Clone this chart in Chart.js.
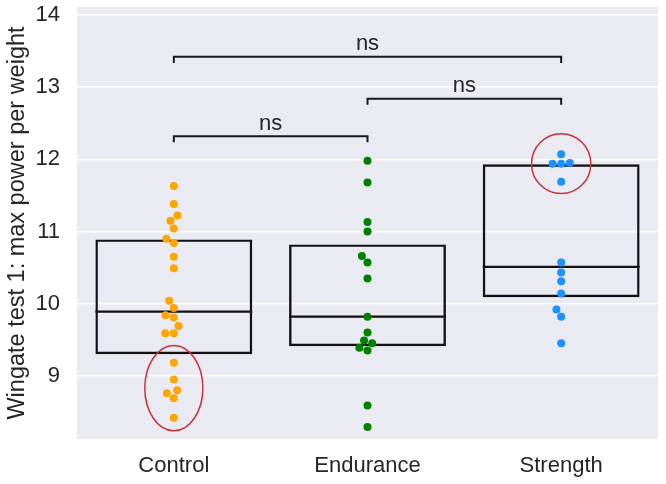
<!DOCTYPE html>
<html>
<head>
<meta charset="utf-8">
<script src="https://cdn.jsdelivr.net/npm/chart.js@4.4.1/dist/chart.umd.min.js"></script>
<style>
  html, body { margin: 0; padding: 0; background: #ffffff; }
</style>
</head>
<body>
<canvas id="wingateChart" width="666" height="484"></canvas>
<script>
// Datos
const grupos = ["Control", "Endurance", "Strength"];
const valoresControl = [11.63, 11.38, 11.22, 11.15, 11.04, 10.90, 10.84, 10.65, 10.49, 10.04, 9.94,
    9.84, 9.81, 9.69, 9.59, 9.59, 9.18, 8.95, 8.80, 8.76, 8.69, 8.42];
const valoresEndurance = [11.98, 11.68, 11.13, 11.00, 10.66, 10.57, 10.35, 9.82, 9.60, 9.49, 9.45,
    9.39, 9.35, 8.59, 8.29];
const valoresStrength = [12.07, 11.94, 11.94, 11.95, 11.69, 10.57, 10.43, 10.31, 10.14, 9.92, 9.82, 9.45];
const cuartil1 = [9.30, 9.41, 10.09];
const medianas = [9.89, 9.82, 10.51];
const cuartil3 = [10.89, 10.82, 11.93];
const ticksY = [9, 10, 11, 12, 13, 14];

// Comparaciones (pares de grupos), altura del corchete y texto
const comparaciones = [[0, 1], [1, 2], [0, 2]];
const alturasComparacion = [12.32, 12.84, 13.42];
const etiquetasComparacion = ["ns", "ns", "ns"];

// Elipses rojas: grupo, valor central, semiejes (x en unidades de grupo, y en valor)
const elipsesGrupo = [0, 2];
const elipsesCentro = [8.83, 11.94];
const elipsesRadioX = [0.15, 0.153];
const elipsesRadioY = [0.59, 0.415];

const coloresGrupo = ["#ffa500", "#008000", "#1e90ff"];
const colorTexto = "#262626";
const colorLineas = "#111111";
const fuente = "'Liberation Sans', Arial, sans-serif";
const anchoCaja = 0.81;
const caidaCorchete = 0.085;
const diametroPunto = 8.6;

Chart.defaults.font.family = fuente;
Chart.defaults.color = colorTexto;

let datasets = [];
[valoresControl, valoresEndurance, valoresStrength].forEach((valores, g) => {
    datasets.push({
        type: "scatter",
        label: grupos[g],
        data: valores.map(v => ({ x: g, y: v })),
        backgroundColor: coloresGrupo[g],
        borderWidth: 0,
        pointRadius: 4,
        order: 0
    });
});

// Cajas (rango intercuartil) como barras flotantes
datasets.push({
    type: "bar",
    label: "cajas",
    data: grupos.map((g, i) => ({ x: i, y: [cuartil1[i], cuartil3[i]] })),
    backgroundColor: "rgba(0,0,0,0)",
    borderColor: colorLineas,
    borderWidth: 2.4,
    borderSkipped: false,
    barPercentage: 1,
    categoryPercentage: anchoCaja,
    order: 3
});

// Medianas
grupos.forEach((g, i) => {
    datasets.push({
        type: "scatter",
        label: "mediana " + g,
        data: [{ x: i - anchoCaja / 2, y: medianas[i] }, { x: i + anchoCaja / 2, y: medianas[i] }],
        showLine: true,
        borderColor: colorLineas,
        borderWidth: 2.4,
        pointRadius: 0,
        order: 2
    });
});

// Corchetes de significancia
comparaciones.forEach((par, k) => {
    let h = alturasComparacion[k];
    datasets.push({
        type: "scatter",
        label: "comparacion " + k,
        data: [
            { x: par[0], y: h - caidaCorchete },
            { x: par[0], y: h },
            { x: par[1], y: h },
            { x: par[1], y: h - caidaCorchete }
        ],
        showLine: true,
        borderColor: "#1a1a1a",
        borderWidth: 2,
        pointRadius: 0,
        order: 1
    });
});

const pluginDecoracion = {
    id: "decoracion",
    beforeDraw: function (chart) {
        let ctx = chart.ctx;
        let a = chart.chartArea;
        ctx.save();
        ctx.fillStyle = "#eaeaf2";
        ctx.fillRect(a.left, a.top, a.right - a.left, a.bottom - a.top);
        ctx.restore();
    },
    afterDatasetsDraw: function (chart) {
        let ctx = chart.ctx;
        let x = chart.scales.x;
        let y = chart.scales.y;
        let unidadX = x.getPixelForValue(1) - x.getPixelForValue(0);
        let unidadY = y.getPixelForValue(0) - y.getPixelForValue(1);
        ctx.save();

        // Textos "ns"
        ctx.fillStyle = colorTexto;
        ctx.font = "22px " + fuente;
        ctx.textAlign = "center";
        ctx.textBaseline = "alphabetic";
        comparaciones.forEach((par, k) => {
            let cx = (x.getPixelForValue(par[0]) + x.getPixelForValue(par[1])) / 2;
            let cy = y.getPixelForValue(alturasComparacion[k]) - 6.5;
            ctx.fillText(etiquetasComparacion[k], cx, cy);
        });

        // Elipses rojas
        ctx.strokeStyle = "#c8323c";
        ctx.lineWidth = 1.5;
        elipsesGrupo.forEach((g, k) => {
            ctx.beginPath();
            ctx.ellipse(x.getPixelForValue(g), y.getPixelForValue(elipsesCentro[k]),
                elipsesRadioX[k] * unidadX, elipsesRadioY[k] * unidadY, 0, 0, Math.PI * 2);
            ctx.stroke();
        });
        ctx.restore();
    }
};

// Desplazamientos tipo enjambre (beeswarm), en pixeles
function calcularEnjambre(valores, yPx, d) {
    let orden = valores.map((v, i) => i).sort((a, b) => valores[a] - valores[b]);
    let colocados = [];
    let desplazamientos = new Array(valores.length).fill(0);
    orden.forEach(i => {
        let py = yPx(valores[i]);
        let vecinos = colocados.filter(p => Math.abs(p.y - py) < d);
        let candidatos = [0];
        vecinos.forEach(p => {
            let dx = Math.sqrt(d * d - (p.y - py) * (p.y - py));
            candidatos.push(p.x - dx, p.x + dx);
        });
        candidatos = candidatos
            .map((c, k) => ({ c: c, k: k }))
            .sort((a, b) => (Math.abs(a.c) - Math.abs(b.c)) || (a.k - b.k))
            .map(o => o.c);
        let elegido = candidatos.find(c =>
            vecinos.every(p => (p.x - c) * (p.x - c) + (p.y - py) * (p.y - py) >= d * d - 1e-6));
        desplazamientos[i] = elegido;
        colocados.push({ x: elegido, y: py });
    });
    return desplazamientos;
}

function aplicarEnjambre(chart) {
    let x = chart.scales.x;
    let y = chart.scales.y;
    let unidadX = x.getPixelForValue(1) - x.getPixelForValue(0);
    [valoresControl, valoresEndurance, valoresStrength].forEach((valores, g) => {
        let desp = calcularEnjambre(valores, v => y.getPixelForValue(v), diametroPunto);
        chart.data.datasets[g].data = valores.map((v, i) => ({ x: g + desp[i] / unidadX, y: v }));
    });
    chart.update("none");
}

let ctx = document.getElementById("wingateChart").getContext("2d");
let grafica = new Chart(ctx, {
    type: "scatter",
    data: { datasets: datasets },
    options: {
        responsive: false,
        animation: false,
        layout: {
            padding: { left: 0, right: 8, top: 7, bottom: 0 }
        },
        scales: {
            x: {
                type: "linear",
                min: -0.5,
                max: 2.5,
                offset: false,
                grid: { display: false, offset: false },
                border: { display: false },
                afterBuildTicks: function (axis) {
                    axis.ticks = grupos.map((g, i) => ({ value: i }));
                },
                afterFit: function (axis) {
                    axis.height = 45;
                    axis.paddingLeft = 0;
                    axis.paddingRight = 0;
                },
                ticks: {
                    font: { size: 22 },
                    color: colorTexto,
                    padding: 6,
                    maxRotation: 0,
                    autoSkip: false,
                    callback: function (value) {
                        return grupos[value];
                    }
                }
            },
            y: {
                min: 8.125,
                max: 14.11,
                grid: { color: "#ffffff", lineWidth: 1.5, drawTicks: false },
                border: { display: false },
                afterBuildTicks: function (axis) {
                    axis.ticks = ticksY.map(v => ({ value: v }));
                },
                afterFit: function (axis) {
                    axis.width = 77;
                    axis.paddingTop = 0;
                    axis.paddingBottom = 0;
                },
                ticks: {
                    font: { size: 22 },
                    color: colorTexto,
                    padding: 17
                },
                title: {
                    display: true,
                    text: "Wingate test 1: max power per weight",
                    font: { size: 23.5 },
                    color: colorTexto,
                    padding: { top: 3, bottom: 0 }
                }
            }
        },
        plugins: {
            legend: { display: false },
            tooltip: { enabled: false }
        }
    },
    plugins: [pluginDecoracion]
});

aplicarEnjambre(grafica);
</script>
</body>
</html>
